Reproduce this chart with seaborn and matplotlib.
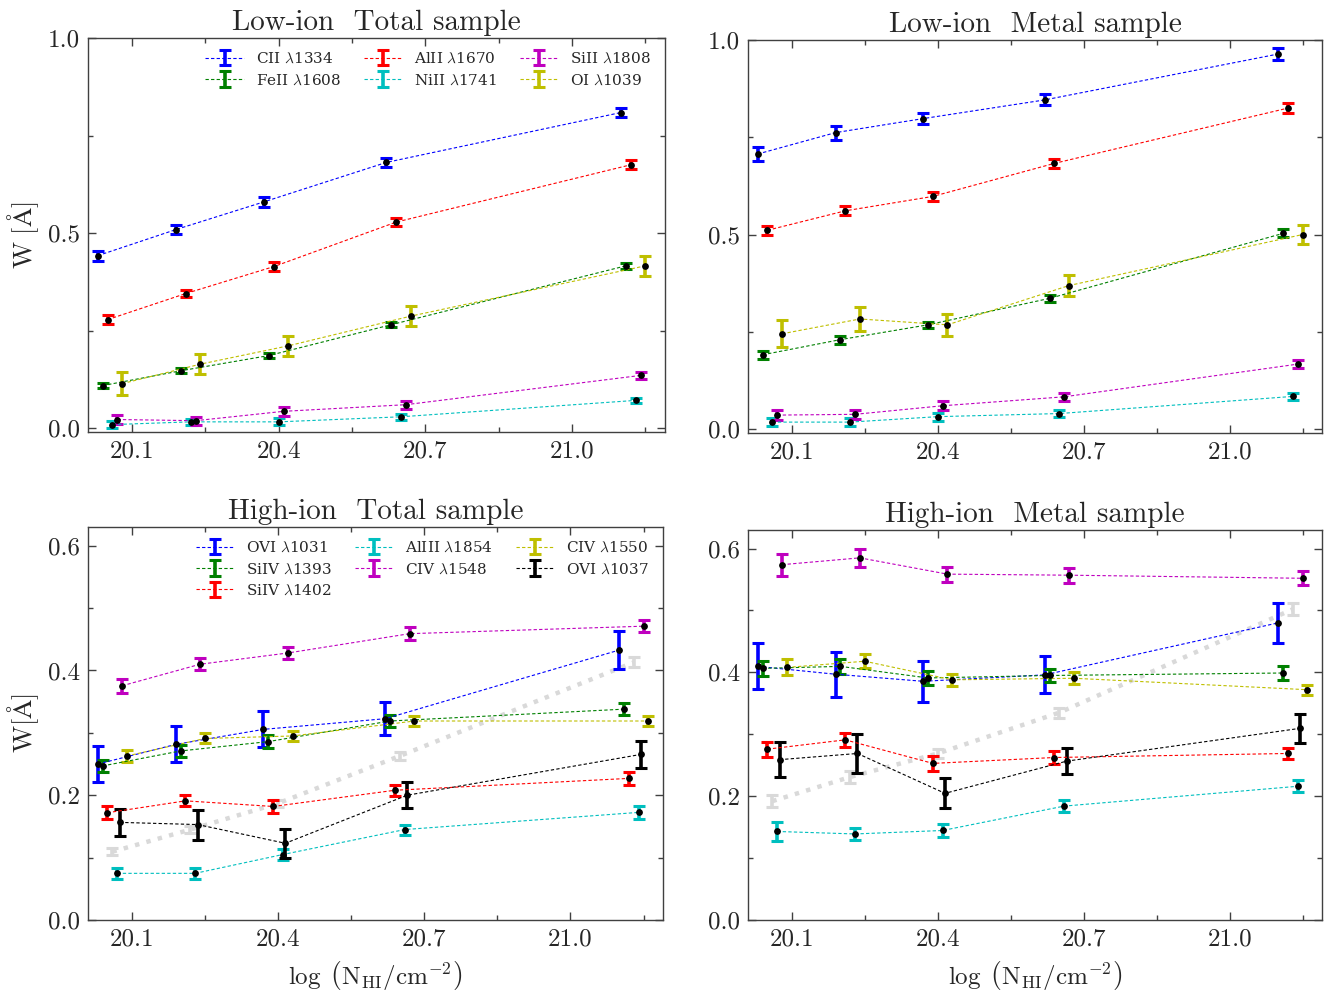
import numpy as np
import pandas as pd
import matplotlib
matplotlib.use("Agg")
import matplotlib.pyplot as plt
import seaborn as sns
from matplotlib.ticker import MultipleLocator

# ---------------- data ----------------
nhi_bins = [20.03, 20.19, 20.37, 20.62, 21.10]

low_ions = ["CII", "FeII", "AlII", "NiII", "SiII", "OI"]
low_labels = [r"CII $\lambda$1334", r"FeII $\lambda$1608", r"AlII $\lambda$1670",
              r"NiII $\lambda$1741", r"SiII $\lambda$1808", r"OI $\lambda$1039"]

low_total_w = {
    "CII":  [0.442, 0.509, 0.580, 0.681, 0.809],
    "FeII": [0.109, 0.147, 0.186, 0.265, 0.416],
    "AlII": [0.278, 0.345, 0.414, 0.528, 0.675],
    "NiII": [0.009, 0.016, 0.016, 0.029, 0.071],
    "SiII": [0.022, 0.019, 0.043, 0.060, 0.135],
    "OI":   [0.114, 0.164, 0.211, 0.287, 0.416],
}
low_total_err = {
    "CII":  [0.013, 0.012, 0.012, 0.011, 0.012],
    "FeII": [0.007, 0.007, 0.007, 0.007, 0.008],
    "AlII": [0.012, 0.010, 0.011, 0.011, 0.012],
    "NiII": [0.009, 0.008, 0.009, 0.007, 0.007],
    "SiII": [0.011, 0.010, 0.011, 0.010, 0.010],
    "OI":   [0.030, 0.025, 0.025, 0.026, 0.026],
}
low_metal_w = {
    "CII":  [0.707, 0.762, 0.798, 0.846, 0.964],
    "FeII": [0.191, 0.230, 0.268, 0.336, 0.503],
    "AlII": [0.511, 0.561, 0.598, 0.683, 0.825],
    "NiII": [0.018, 0.018, 0.032, 0.040, 0.084],
    "SiII": [0.036, 0.038, 0.060, 0.083, 0.167],
    "OI":   [0.245, 0.283, 0.268, 0.369, 0.500],
}
low_metal_err = {
    "CII":  [0.017, 0.018, 0.015, 0.014, 0.015],
    "FeII": [0.010, 0.010, 0.008, 0.009, 0.010],
    "AlII": [0.012, 0.012, 0.012, 0.012, 0.012],
    "NiII": [0.010, 0.010, 0.010, 0.009, 0.009],
    "SiII": [0.012, 0.012, 0.011, 0.010, 0.010],
    "OI":   [0.035, 0.030, 0.028, 0.026, 0.024],
}

high_ions = ["OVI1031", "SiIV1393", "SiIV1402", "AlIII1854", "CIV1548", "CIV1550", "OVI1037"]
high_labels = [r"OVI $\lambda$1031", r"SiIV $\lambda$1393", r"SiIV $\lambda$1402",
               r"AlIII $\lambda$1854", r"CIV $\lambda$1548", r"CIV $\lambda$1550",
               r"OVI $\lambda$1037"]

high_total_w = {
    "OVI1031":   [0.250, 0.2815, 0.3056, 0.3227, 0.4327],
    "SiIV1393":  [0.247, 0.271, 0.286, 0.319, 0.338],
    "SiIV1402":  [0.172, 0.191, 0.182, 0.208, 0.227],
    "AlIII1854": [0.0748, 0.0748, 0.105, 0.145, 0.1725],
    "CIV1548":   [0.3755, 0.410, 0.428, 0.459, 0.471],
    "CIV1550":   [0.263, 0.291, 0.295, 0.319, 0.319],
    "OVI1037":   [0.1565, 0.153, 0.123, 0.200, 0.2655],
}
high_total_err = {
    "OVI1031":   [0.029, 0.029, 0.029, 0.026, 0.030],
    "SiIV1393":  [0.010, 0.010, 0.010, 0.010, 0.010],
    "SiIV1402":  [0.010, 0.009, 0.010, 0.009, 0.010],
    "AlIII1854": [0.009, 0.009, 0.009, 0.008, 0.010],
    "CIV1548":   [0.011, 0.010, 0.010, 0.010, 0.010],
    "CIV1550":   [0.009, 0.008, 0.008, 0.008, 0.008],
    "OVI1037":   [0.022, 0.024, 0.023, 0.021, 0.022],
}
high_total_grey_w = [0.1095, 0.145, 0.187, 0.263, 0.413]
high_total_grey_err = [0.006, 0.006, 0.006, 0.006, 0.008]

high_metal_w = {
    "OVI1031":   [0.4097, 0.397, 0.3856, 0.396, 0.480],
    "SiIV1393":  [0.4065, 0.4097, 0.391, 0.395, 0.399],
    "SiIV1402":  [0.276, 0.291, 0.253, 0.2625, 0.269],
    "AlIII1854": [0.143, 0.139, 0.1446, 0.184, 0.216],
    "CIV1548":   [0.574, 0.585, 0.5587, 0.557, 0.552],
    "CIV1550":   [0.408, 0.418, 0.388, 0.3905, 0.372],
    "OVI1037":   [0.259, 0.269, 0.2046, 0.2566, 0.3096],
}
high_metal_err = {
    "OVI1031":   [0.037, 0.036, 0.033, 0.030, 0.032],
    "SiIV1393":  [0.012, 0.012, 0.011, 0.011, 0.011],
    "SiIV1402":  [0.012, 0.011, 0.012, 0.010, 0.009],
    "AlIII1854": [0.015, 0.010, 0.010, 0.010, 0.010],
    "CIV1548":   [0.018, 0.014, 0.012, 0.012, 0.011],
    "CIV1550":   [0.013, 0.011, 0.010, 0.010, 0.008],
    "OVI1037":   [0.028, 0.032, 0.024, 0.021, 0.023],
}
high_metal_grey_w = [0.192, 0.231, 0.269, 0.335, 0.502]
high_metal_grey_err = [0.010, 0.009, 0.008, 0.008, 0.010]

# ---------------- styles ----------------
low_colors = {"CII": "#0000ff", "FeII": "#008000", "AlII": "#ff0000",
              "NiII": "#00bfbf", "SiII": "#bf00bf", "OI": "#bfbf00"}
low_dodge = {"CII": 0.0, "FeII": 0.01, "AlII": 0.02, "NiII": 0.03, "SiII": 0.04, "OI": 0.05}
high_colors = {"OVI1031": "#0000ff", "SiIV1393": "#008000", "SiIV1402": "#ff0000",
               "AlIII1854": "#00bfbf", "CIV1548": "#bf00bf", "CIV1550": "#bfbf00",
               "OVI1037": "#000000"}
high_dodge = {"OVI1031": 0.0, "SiIV1393": 0.01, "SiIV1402": 0.02, "AlIII1854": 0.04,
              "CIV1548": 0.05, "CIV1550": 0.06, "OVI1037": 0.045}
grey_dodge = 0.03
grey_color = "#d9d9d9"

sns.set_style("ticks")
plt.rcParams["font.family"] = ["DejaVu Serif"]
plt.rcParams["mathtext.fontset"] = "cm"
plt.rcParams["axes.formatter.use_mathtext"] = True

fig = plt.figure(figsize=(13.38, 9.92), dpi=100)
W, H = 1338, 992


def add_ax(l, r, t, b):
    return fig.add_axes([l / W, 1 - b / H, (r - l) / W, (b - t) / H])


ax_tl = add_ax(88, 665, 38, 432)
ax_tr = add_ax(748, 1322, 40, 433)
ax_bl = add_ax(88, 663, 527, 920)
ax_br = add_ax(748, 1322, 530, 920)

TICKFONT = "cmr10"
TICKSIZE = 18


def draw_panel(ax, ions, labels, wdict, edict, colors, dodge, grey=None):
    for ion, lab in zip(ions, labels):
        x = np.array(nhi_bins) + dodge[ion]
        y = np.array(wdict[ion])
        e = np.array(edict[ion])
        ax.errorbar(x, y, yerr=e, fmt="--", color=colors[ion], lw=0.8,
                    dashes=(3, 2), elinewidth=2.6, capsize=4.5, capthick=2.2,
                    label=lab, zorder=3)
        df = pd.DataFrame({"x": x, "y": y})
        sns.scatterplot(data=df, x="x", y="y", ax=ax, color="black", s=24,
                        edgecolor="black", linewidth=0, zorder=5, legend=False)
    if grey is not None:
        gw, ge = grey
        x = np.array(nhi_bins) + grey_dodge
        ax.errorbar(x, gw, yerr=ge, fmt=":", color=grey_color, lw=3.2,
                    elinewidth=2.6, capsize=4.5, capthick=2.2, zorder=1)
    ax.set_xlim(20.01, 21.19)
    ax.xaxis.set_minor_locator(MultipleLocator(0.15))
    ax.set_xticks([20.1, 20.4, 20.7, 21.0])
    ax.tick_params(which="both", direction="in", top=True, right=True,
                   color="0.25")
    ax.tick_params(which="major", length=6, width=1, labelsize=TICKSIZE, pad=6)
    ax.tick_params(which="minor", length=3.5, width=1)
    for s in ax.spines.values():
        s.set_color("0.25")
        s.set_linewidth(1.0)
    ax.set_xlabel("")
    ax.set_ylabel("")


draw_panel(ax_tl, low_ions, low_labels, low_total_w, low_total_err, low_colors, low_dodge)
draw_panel(ax_tr, low_ions, low_labels, low_metal_w, low_metal_err, low_colors, low_dodge)
draw_panel(ax_bl, high_ions, high_labels, high_total_w, high_total_err, high_colors,
           high_dodge, grey=(high_total_grey_w, high_total_grey_err))
draw_panel(ax_br, high_ions, high_labels, high_metal_w, high_metal_err, high_colors,
           high_dodge, grey=(high_metal_grey_w, high_metal_grey_err))

for ax in (ax_tl, ax_tr):
    ax.set_ylim(-0.01, 1.0)
    ax.set_yticks([0.0, 0.5, 1.0])
    ax.yaxis.set_minor_locator(MultipleLocator(0.25))
    ax.set_yticklabels(["0.0", "0.5", "1.0"], fontfamily=TICKFONT, fontsize=TICKSIZE)
for ax in (ax_bl, ax_br):
    ax.set_ylim(0.0, 0.63)
    ax.set_yticks([0.0, 0.2, 0.4, 0.6])
    ax.yaxis.set_minor_locator(MultipleLocator(0.1))
    ax.set_yticklabels(["0.0", "0.2", "0.4", "0.6"], fontfamily=TICKFONT, fontsize=TICKSIZE)
for ax in (ax_tl, ax_tr, ax_bl, ax_br):
    ax.set_xticklabels(["20.1", "20.4", "20.7", "21.0"], fontfamily=TICKFONT, fontsize=TICKSIZE)

title_kw = dict(fontsize=21, fontfamily=TICKFONT, pad=6)
ax_tl.set_title("Low-ion  Total sample", **title_kw)
ax_tr.set_title("Low-ion  Metal sample", **title_kw)
ax_bl.set_title("High-ion  Total sample", **title_kw)
ax_br.set_title("High-ion  Metal sample", **title_kw)

ax_tl.set_ylabel(r"$\mathrm{W\ [\AA]}$", fontsize=19, labelpad=5)
ax_bl.set_ylabel(r"$\mathrm{W[\AA]}$", fontsize=19, labelpad=5)
xl = r"$\log\ \left(\mathrm{N_{HI}/cm^{-2}}\right)$"
ax_bl.set_xlabel(xl, fontsize=18, labelpad=6)
ax_br.set_xlabel(xl, fontsize=18, labelpad=6)

leg_kw = dict(loc="upper right", ncol=3, frameon=False, fontsize=11,
              handlelength=2.5, handletextpad=0.8, columnspacing=1.5,
              labelspacing=0.45, borderaxespad=0.5)
ax_tl.legend(**leg_kw)
ax_bl.legend(**leg_kw)

fig.savefig("out.png", dpi=100)
